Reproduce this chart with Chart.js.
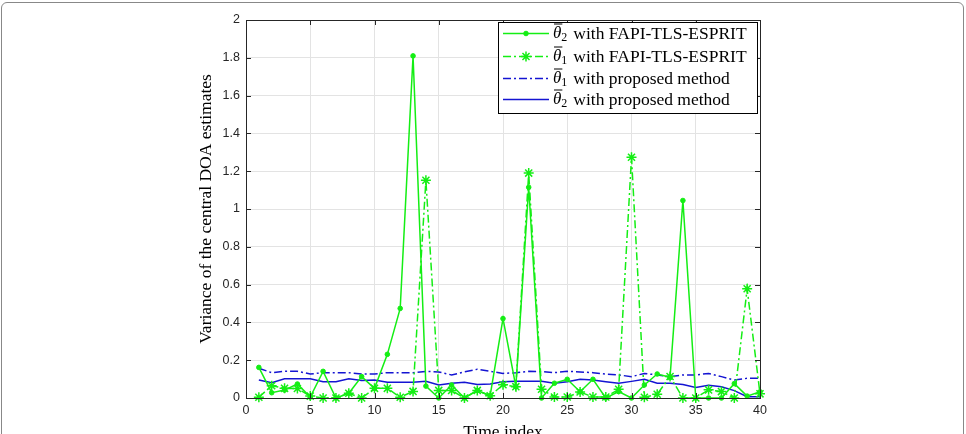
<!DOCTYPE html>
<html>
<head>
<meta charset="utf-8">
<script src="https://cdn.jsdelivr.net/npm/chart.js@4/dist/chart.umd.min.js"></script>
<style>
  html, body { margin: 0; padding: 0; background: #fff; overflow: hidden; }
  #wrap { position: relative; width: 966px; height: 434px; overflow: hidden; }
  #frame { position: absolute; left: 1px; top: 2px; width: 961px; height: 470px;
           border: 1.5px solid #888; border-radius: 6px; pointer-events: none; }
  canvas { position: absolute; left: 0; top: 0; }
</style>
</head>
<body>
<div id="wrap">
  <canvas id="canvas" width="966" height="450"></canvas>
  <div id="frame"></div>
</div>
<script>
"use strict";

// time index 1..40
const timeIndex = [1, 2, 3, 4, 5, 6, 7, 8, 9, 10, 11, 12, 13, 14, 15, 16, 17, 18, 19, 20,
    21, 22, 23, 24, 25, 26, 27, 28, 29, 30, 31, 32, 33, 34, 35, 36, 37, 38, 39, 40];

const theta2Fapi = [0.162, 0.028, 0.042, 0.074, 0.005, 0.141, 0.0, 0.025, 0.113, 0.051,
    0.231, 0.474, 1.81, 0.063, 0.0, 0.069, 0.0, 0.04, 0.012, 0.42,
    0.06, 1.115, 0.0, 0.078, 0.099, 0.033, 0.099, 0.0, 0.034, 0.0,
    0.069, 0.127, 0.11, 1.045, 0.0, 0.0, 0.0, 0.076, 0.01, 0.033];

const theta1Fapi = [0.004, 0.065, 0.051, 0.05, 0.01, 0.0, 0.0, 0.025, 0.0, 0.051,
    0.051, 0.004, 0.035, 1.152, 0.04, 0.04, 0.0, 0.04, 0.012, 0.07,
    0.06, 1.19, 0.046, 0.005, 0.005, 0.032, 0.005, 0.005, 0.046, 1.274,
    0.004, 0.02, 0.114, 0.0, 0.0, 0.043, 0.034, 0.0, 0.578, 0.022];

const theta1Proposed = [0.157, 0.134, 0.141, 0.141, 0.127, 0.134, 0.134, 0.134, 0.127, 0.127,
    0.134, 0.134, 0.134, 0.141, 0.138, 0.122, 0.138, 0.152, 0.141, 0.13,
    0.134, 0.141, 0.14, 0.134, 0.141, 0.138, 0.134, 0.127, 0.122, 0.113,
    0.13, 0.122, 0.113, 0.122, 0.122, 0.13, 0.113, 0.095, 0.104, 0.104];

const theta2Proposed = [0.095, 0.081, 0.102, 0.102, 0.102, 0.086, 0.086, 0.102, 0.092, 0.095,
    0.083, 0.083, 0.083, 0.088, 0.069, 0.078, 0.083, 0.071, 0.074, 0.086,
    0.088, 0.088, 0.088, 0.078, 0.086, 0.099, 0.095, 0.086, 0.078, 0.088,
    0.099, 0.078, 0.078, 0.071, 0.056, 0.067, 0.06, 0.039, 0.007, 0.007];

// legend text: theta-bar with subscript, then the rest
const seriesSubscripts = ["2", "1", "1", "2"];
const seriesLabels = [
    "with FAPI-TLS-ESPRIT",
    "with FAPI-TLS-ESPRIT",
    "with proposed method",
    "with proposed method"
];

const GREEN = "#14ee14";
const BLUE = "#1414d2";
const AXIS = "#262626";
const DASHDOT = [8, 3, 2, 3];
const SERIF = "'Liberation Serif'";

function pts(values) {
    return values.map((v, i) => ({ x: timeIndex[i], y: v }));
}

// MATLAB style box with inward ticks
const boxPlugin = {
    id: "box",
    afterDraw(chart) {
        const ctx = chart.ctx;
        const a = chart.chartArea;
        const xs = chart.scales.x, ys = chart.scales.y;
        ctx.save();
        ctx.strokeStyle = AXIS;
        ctx.lineWidth = 1;
        ctx.strokeRect(a.left + 0.5, a.top + 0.5, a.right - a.left, a.bottom - a.top);
        ctx.beginPath();
        xs.ticks.forEach(t => {
            const px = Math.round(xs.getPixelForValue(t.value)) + 0.5;
            ctx.moveTo(px, a.bottom); ctx.lineTo(px, a.bottom - 5);
            ctx.moveTo(px, a.top); ctx.lineTo(px, a.top + 5);
        });
        ys.ticks.forEach(t => {
            const py = Math.round(ys.getPixelForValue(t.value)) + 0.5;
            ctx.moveTo(a.left, py); ctx.lineTo(a.left + 5, py);
            ctx.moveTo(a.right, py); ctx.lineTo(a.right - 5, py);
        });
        ctx.stroke();
        ctx.restore();
    }
};

// legend box inside the plot, top right
const legendPlugin = {
    id: "legendBox",
    afterDraw(chart) {
        const ctx = chart.ctx;
        const bx = 498, by = 22, bw = 259, bh = 91;
        ctx.save();
        ctx.fillStyle = "#fff";
        ctx.fillRect(bx, by, bw, bh);
        ctx.strokeStyle = "#000";
        ctx.lineWidth = 1;
        ctx.strokeRect(bx + 0.5, by + 0.5, bw, bh);
        const rows = [33, 56, 78, 99];
        chart.data.datasets.forEach((ds, i) => {
            const y = rows[i] + 0.5;
            ctx.strokeStyle = ds.borderColor;
            ctx.lineWidth = ds.borderWidth;
            ctx.setLineDash(ds.borderDash || []);
            ctx.beginPath();
            ctx.moveTo(503, y);
            ctx.lineTo(549, y);
            ctx.stroke();
            ctx.setLineDash([]);
            if (ds.pointRadius > 0) {
                ctx.fillStyle = ds.pointBackgroundColor;
                ctx.strokeStyle = ds.borderColor;
                ctx.lineWidth = ds.pointBorderWidth;
                Chart.helpers.drawPoint(ctx, {
                    pointStyle: ds.pointStyle,
                    radius: ds.pointRadius,
                    borderWidth: ds.pointBorderWidth,
                    rotation: 0
                }, 526, y);
            }
            // theta with bar and subscript
            const ty = rows[i] + 1;
            ctx.fillStyle = "#000";
            ctx.textBaseline = "middle";
            ctx.font = "italic 17px " + SERIF;
            ctx.fillText("\u03B8", 553, ty);
            const thW = ctx.measureText("\u03B8").width;
            ctx.strokeStyle = "#000";
            ctx.lineWidth = 1;
            ctx.beginPath();
            ctx.moveTo(554, ty - 10);
            ctx.lineTo(553 + thW + 1, ty - 10);
            ctx.stroke();
            ctx.font = "12px " + SERIF;
            ctx.fillText(ds.sub, 553 + thW, ty + 4);
            ctx.font = "17.5px " + SERIF;
            ctx.fillText(ds.label, 553 + thW + 12, ty);
        });
        ctx.restore();
    }
};

const ctx = document.getElementById("canvas").getContext("2d");
window.myChart = new Chart(ctx, {
    type: "line",
    data: {
        datasets: [{
            label: seriesLabels[0],
            sub: seriesSubscripts[0],
            data: pts(theta2Fapi),
            borderColor: GREEN,
            backgroundColor: GREEN,
            pointBackgroundColor: GREEN,
            borderWidth: 1.5,
            pointStyle: "circle",
            pointRadius: 2.3,
            pointBorderWidth: 1,
            tension: 0,
            clip: false
        }, {
            label: seriesLabels[1],
            sub: seriesSubscripts[1],
            data: pts(theta1Fapi),
            borderColor: GREEN,
            backgroundColor: GREEN,
            pointBackgroundColor: GREEN,
            borderWidth: 1.5,
            borderDash: DASHDOT,
            pointStyle: "star",
            pointRadius: 5,
            pointBorderWidth: 1.5,
            tension: 0,
            clip: false
        }, {
            label: seriesLabels[2],
            sub: seriesSubscripts[2],
            data: pts(theta1Proposed),
            borderColor: BLUE,
            backgroundColor: BLUE,
            borderWidth: 1.5,
            borderDash: DASHDOT,
            pointRadius: 0,
            tension: 0
        }, {
            label: seriesLabels[3],
            sub: seriesSubscripts[3],
            data: pts(theta2Proposed),
            borderColor: BLUE,
            backgroundColor: BLUE,
            borderWidth: 1.5,
            pointRadius: 0,
            tension: 0
        }]
    },
    options: {
        responsive: false,
        animation: false,
        layout: {
            padding: { left: 194, right: 206, top: 20, bottom: 0 }
        },
        plugins: {
            legend: { display: false },
            tooltip: { enabled: false },
            title: { display: false }
        },
        scales: {
            x: {
                type: "linear",
                min: 0,
                max: 40,
                ticks: {
                    stepSize: 5,
                    padding: 5,
                    color: AXIS,
                    maxRotation: 0,
                    font: { family: "'Liberation Sans'", size: 12.5 }
                },
                grid: { color: "#e3e3e3", drawTicks: false },
                border: { color: AXIS },
                title: {
                    display: true,
                    text: "Time index",
                    color: "#000",
                    padding: { top: 0, bottom: 7 },
                    font: { family: SERIF, size: 17.5 }
                },
                afterFit(scale) { scale.height = 52; }
            },
            y: {
                min: 0,
                max: 2,
                ticks: {
                    stepSize: 0.2,
                    padding: 6,
                    color: AXIS,
                    font: { family: "'Liberation Sans'", size: 12.5 },
                    callback: v => String(Number(v.toFixed(1)))
                },
                grid: { color: "#e3e3e3", drawTicks: false },
                border: { color: AXIS },
                title: {
                    display: true,
                    text: "Variance of the central DOA estimates",
                    color: "#000",
                    padding: { top: 2, bottom: 4 },
                    font: { family: SERIF, size: 17.5 }
                },
                afterFit(scale) { scale.width = 52; }
            }
        }
    },
    plugins: [boxPlugin, legendPlugin]
});
</script>
</body>
</html>
